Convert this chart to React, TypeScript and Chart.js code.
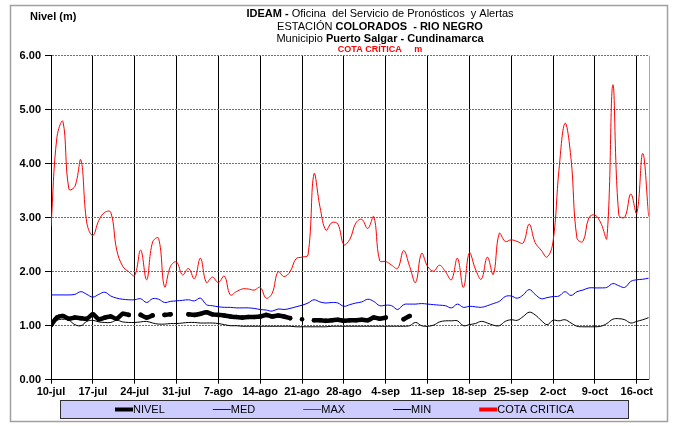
import React, { useEffect, useRef } from 'react';
import { Chart, registerables } from 'chart.js';

Chart.register(...registerables);

// ---------- DATA ----------
const tickLabels = ['10-jul', '17-jul', '24-jul', '31-jul', '7-ago', '14-ago', '21-ago', '28-ago', '4-sep', '11-sep', '18-sep', '25-sep', '2-oct', '9-oct', '16-oct'];
const yTicks = [0, 1, 2, 3, 4, 5, 6];

// daily values, day 0 = 10-jul ... day 100 = 18-oct
const nivel: (number | null)[] = [
  1.01, 1.15, 1.18, 1.13, 1.15, 1.14, 1.13, 1.21, 1.12, 1.15,
  1.17, 1.13, 1.22, 1.2, null, 1.2, 1.15, 1.19, null, 1.2,
  1.21, null, null, 1.21, 1.2, 1.22, 1.25, 1.21, 1.2, 1.19,
  1.17, 1.16, 1.15, 1.16, 1.16, 1.17, 1.2, 1.17, 1.19, 1.17,
  1.14, null, 1.12, null, 1.1, 1.1, 1.09, 1.1, 1.11, 1.09,
  1.1, 1.1, 1.11, 1.1, 1.15, 1.13, 1.15, null, null, 1.12,
  1.18,
];
const med: number[] = [
  1.57, 1.57, 1.57, 1.57, 1.58, 1.63, 1.58, 1.53, 1.58, 1.62,
  1.55, 1.51, 1.49, 1.48, 1.48, 1.5, 1.43, 1.5, 1.49, 1.43,
  1.45, 1.46, 1.47, 1.48, 1.46, 1.51, 1.39, 1.37, 1.35, 1.34,
  1.34, 1.33, 1.33, 1.33, 1.32, 1.3, 1.29, 1.27, 1.31, 1.3,
  1.32, 1.35, 1.38, 1.42, 1.48, 1.44, 1.42, 1.43, 1.42, 1.36,
  1.39, 1.42, 1.44, 1.49, 1.45, 1.37, 1.38, 1.37, 1.3, 1.39,
  1.4, 1.4, 1.41, 1.4, 1.39, 1.38, 1.37, 1.33, 1.4, 1.34,
  1.36, 1.35, 1.34, 1.37, 1.41, 1.45, 1.54, 1.55, 1.51, 1.57,
  1.67, 1.58, 1.5, 1.52, 1.54, 1.55, 1.63, 1.56, 1.63, 1.66,
  1.7, 1.7, 1.7, 1.71, 1.78, 1.74, 1.71, 1.82, 1.85, 1.86,
  1.88,
];
const max: number[] = [
  2.83, 4.5, 4.78, 3.53, 3.58, 4.07, 2.9, 2.67, 2.95, 3.1,
  3.1, 2.4, 2.1, 2.0, 1.93, 2.4, 1.85, 2.55, 2.62, 1.72,
  2.1, 2.18, 1.94, 2.06, 1.87, 2.25, 1.8, 1.9, 1.8, 1.92,
  1.57, 1.63, 1.68, 1.68, 1.66, 1.71, 1.51, 1.6, 2.0, 1.91,
  2.0, 2.24, 2.27, 2.31, 3.81, 3.2, 2.77, 2.91, 2.88, 2.5,
  2.6, 2.9, 2.97, 2.8, 3.02, 2.2, 2.19, 2.12, 2.06, 2.39,
  2.1, 1.8, 2.34, 2.1, 2.01, 2.12, 2.0, 1.85, 2.25, 1.71,
  2.35, 2.05, 1.86, 2.27, 1.95, 2.71, 2.56, 2.59, 2.56, 2.53,
  2.88, 2.54, 2.4, 2.27, 2.56, 3.9, 4.75, 4.1, 2.62, 2.56,
  3.0, 3.05, 2.9, 2.62, 5.46, 3.05, 3.01, 3.44, 3.08, 4.19,
  3.02,
];
const min: number[] = [
  1.01, 1.1, 1.12, 1.1, 1.02, 1.0, 1.08, 1.1, 1.07, 1.06,
  1.06, 1.1, 1.07, 1.06, 1.06, 1.07, 1.08, 1.05, 1.03, 1.03,
  1.04, 1.04, 1.05, 1.06, 1.06, 1.05, 1.05, 1.05, 1.04, 1.02,
  1.0, 1.0, 0.99, 0.99, 0.99, 0.99, 0.99, 0.99, 0.99, 0.99,
  0.99, 0.98, 0.98, 0.98, 0.98, 0.98, 0.98, 0.99, 0.99, 0.99,
  0.99, 0.99, 0.99, 0.99, 0.99, 0.99, 0.99, 0.99, 0.99, 0.99,
  1.0, 1.06, 1.0, 0.99, 1.01, 1.07, 1.09, 1.09, 1.09, 1.0,
  1.02, 1.04, 1.08, 1.05, 1.01, 1.0, 1.08, 1.11, 1.1, 1.17,
  1.25, 1.2, 1.1, 1.02, 1.1, 1.09, 1.11, 1.05, 0.99, 0.98,
  0.98, 0.98, 0.99, 1.04, 1.12, 1.13, 1.11, 1.05, 1.08, 1.11,
  1.15,
];
const cotaCritica: (number | null)[] = [];

const seriesNames = ['NIVEL', 'MED', 'MAX', 'MIN', 'COTA CRITICA'];

const titleLines: [string, boolean][][] = [
  [['IDEAM - ', true], ['Oficina  del Servicio de Pronósticos  y Alertas', false]],
  [['ESTACIÓN ', false], ['COLORADOS  - RIO NEGRO', true]],
  [['Municipio ', false], ['Puerto Salgar - Cundinamarca', true]],
];
const subTitle = 'COTA CRÍTICA     m';
const yAxisTitle = 'Nivel (m)';

// ---------- STYLE ----------
const FONT = '"Liberation Sans", Arial, Helvetica, sans-serif';

const toXY = (arr: (number | null)[]) => arr.map((v, i) => ({ x: i, y: v }));

const decorPlugin = {
  id: 'decor',
  beforeDraw(chart: any) {
    const ctx = chart.ctx;
    ctx.save();
    ctx.fillStyle = '#ffffff';
    ctx.fillRect(0, 0, chart.width, chart.height);
    ctx.restore();
  },
  afterDraw(chart: any) {
    const ctx = chart.ctx;
    const area = chart.chartArea;
    ctx.save();
    // outer frame
    ctx.strokeStyle = '#a0a0a0';
    ctx.lineWidth = 1.5;
    ctx.strokeRect(10.5, 5.5, 657, 416);
    // right border of plot
    ctx.strokeStyle = '#a8a8a8';
    ctx.lineWidth = 1;
    ctx.beginPath();
    ctx.moveTo(Math.round(area.right) + 0.5, area.top);
    ctx.lineTo(Math.round(area.right) + 0.5, area.bottom);
    ctx.stroke();

    // header
    ctx.fillStyle = '#000';
    ctx.textBaseline = 'middle';
    ctx.textAlign = 'left';
    ctx.font = `bold 11px ${FONT}`;
    ctx.fillText(yAxisTitle, 30, 17);

    const cx = 380;
    const ys = [14, 27, 39];
    titleLines.forEach((segs, li) => {
      const widths = segs.map(([t, b]) => {
        ctx.font = `${b ? 'bold ' : ''}11px ${FONT}`;
        return ctx.measureText(t).width;
      });
      const total = widths.reduce((a, b) => a + b, 0);
      let x = cx - total / 2;
      segs.forEach(([t, b], i) => {
        ctx.font = `${b ? 'bold ' : ''}11px ${FONT}`;
        ctx.fillText(t, x, ys[li]);
        x += widths[i];
      });
    });
    ctx.font = `bold 9px ${FONT}`;
    ctx.fillStyle = '#ff0000';
    ctx.textAlign = 'center';
    ctx.fillText(subTitle, cx, 50);

    // legend
    const box = { l: 60.5, t: 400.5, r: 628.5, b: 418.5 };
    ctx.fillStyle = '#ccccff';
    ctx.fillRect(box.l, box.t, box.r - box.l, box.b - box.t);
    ctx.strokeStyle = '#303030';
    ctx.lineWidth = 1;
    ctx.strokeRect(box.l, box.t, box.r - box.l, box.b - box.t);
    ctx.font = `11px ${FONT}`;
    ctx.textAlign = 'left';
    const sample = 18;
    const gap = 48;
    const items = chart.data.datasets.map((ds: any) => ({
      text: ds.label,
      color: ds.borderColor,
      w: ds.legendWidth,
      tw: ctx.measureText(ds.label).width,
    }));
    const total = items.reduce((a: number, it: any) => a + sample + it.tw, 0) + gap * (items.length - 1);
    let x = (box.l + box.r) / 2 - total / 2;
    const yMid = (box.t + box.b) / 2;
    items.forEach((it: any) => {
      ctx.strokeStyle = it.color;
      ctx.lineWidth = it.w;
      ctx.lineCap = 'butt';
      ctx.beginPath();
      ctx.moveTo(x, yMid);
      ctx.lineTo(x + sample, yMid);
      ctx.stroke();
      ctx.fillStyle = '#000';
      ctx.fillText(it.text, x + sample, yMid + 0.5);
      x += sample + it.tw + gap;
    });
    ctx.restore();
  },
};

export default function App() {
  const ref = useRef<HTMLCanvasElement>(null);
  useEffect(() => {
    document.body.style.margin = '0';
    const canvas = ref.current!;
    const chart = new Chart(canvas, {
      type: 'line',
      data: {
        datasets: [
          {
            label: seriesNames[0], data: toXY(nivel), borderColor: '#000000', backgroundColor: '#000000',
            borderWidth: 4.5, pointRadius: 2.3, pointBorderWidth: 0, pointHoverRadius: 0, tension: 0.3,
            spanGaps: false, borderCapStyle: 'round', legendWidth: 4, order: 0,
          } as any,
          {
            label: seriesNames[1], data: toXY(med), borderColor: '#0000ff', borderWidth: 1,
            pointRadius: 0, tension: 0.4, legendWidth: 1, order: 3,
          } as any,
          {
            label: seriesNames[2], data: toXY(max), borderColor: '#ff0000', borderWidth: 1,
            pointRadius: 0, tension: 0.4, legendWidth: 1, order: 2,
          } as any,
          {
            label: seriesNames[3], data: toXY(min), borderColor: '#000000', borderWidth: 1,
            pointRadius: 0, tension: 0.4, legendWidth: 1, order: 4,
          } as any,
          {
            label: seriesNames[4], data: toXY(cotaCritica), borderColor: '#ff0000', borderWidth: 3,
            pointRadius: 0, legendWidth: 4, order: 5,
          } as any,
        ],
      },
      options: {
        responsive: false,
        animation: false,
        events: [],
        layout: { padding: { left: 0, right: 28.3, top: 55.7, bottom: 0 } },
        plugins: { legend: { display: false }, title: { display: false }, tooltip: { enabled: false } },
        scales: {
          x: {
            type: 'linear',
            min: 0,
            max: 100,
            afterFit: (s: any) => { s.height = 46.3; },
            afterBuildTicks: (s: any) => { s.ticks = tickLabels.map((_, i) => ({ value: i * 7 })); },
            ticks: {
              autoSkip: false, maxRotation: 0, minRotation: 0, padding: 2,
              color: '#000', font: { family: FONT, size: 11, weight: 'bold' },
              callback: (v: any) => tickLabels[Math.round(Number(v) / 7)] ?? '',
            },
            grid: { color: '#000000', lineWidth: 1, tickLength: 4, tickColor: '#000' },
            border: { color: '#000', width: 1 },
          },
          y: {
            min: 0,
            max: 6,
            afterFit: (s: any) => { s.width = 51; },
            afterBuildTicks: (s: any) => { s.ticks = yTicks.map((v) => ({ value: v })); },
            ticks: {
              padding: 4, color: '#000', font: { family: FONT, size: 11, weight: 'bold' },
              callback: (v: any) => Number(v).toFixed(2),
            },
            grid: {
              color: (c: any) => (c.tick && c.tick.value === 0 ? 'rgba(0,0,0,0)' : '#707070'),
              lineWidth: 1, tickLength: 6, tickColor: '#000',
            },
            border: { color: '#000', width: 1, dash: [2, 1] },
          },
        },
      } as any,
      plugins: [decorPlugin],
    });
    return () => chart.destroy();
  }, []);
  return (
    <div style={{ width: 677, height: 426 }}>
      <canvas ref={ref} width={677} height={426} style={{ display: 'block' }} />
    </div>
  );
}
